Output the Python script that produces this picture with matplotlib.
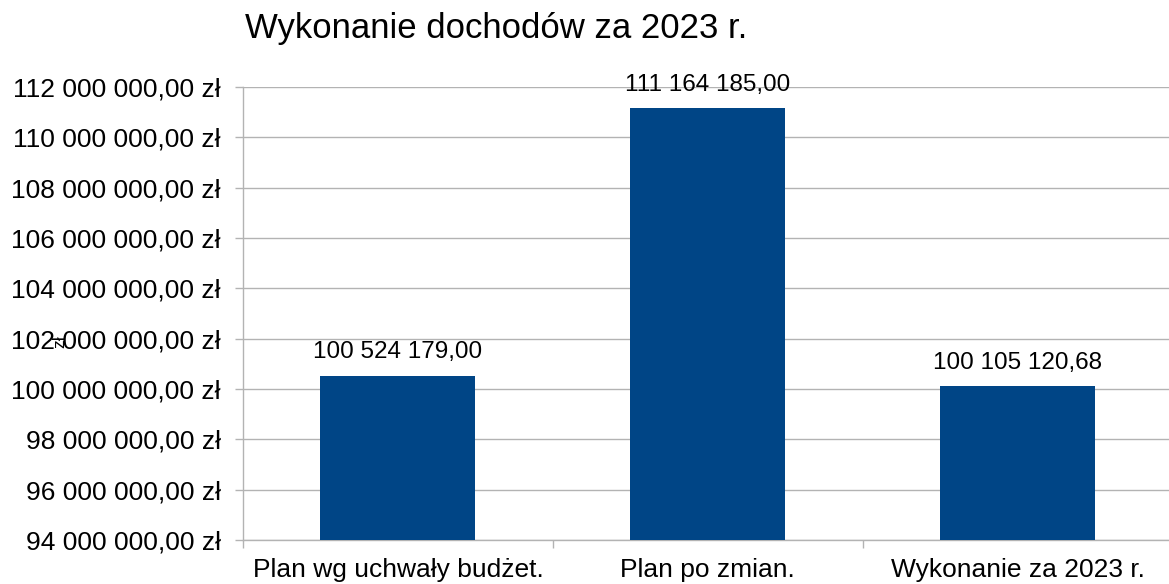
import matplotlib
matplotlib.use("Agg")
import matplotlib.pyplot as plt
from matplotlib.ticker import FuncFormatter, FixedLocator

plt.rcParams["font.family"] = ["Liberation Sans", "DejaVu Sans"]

categories = ["Plan wg uchwały budżet.", "Plan po zmian.", "Wykonanie za 2023 r."]
values = [100524179.00, 111164185.00, 100105120.68]
title = "Wykonanie dochodów za 2023 r."
y_ticks = list(range(94_000_000, 112_000_001, 2_000_000))

BAR = "#004586"
GRID = "#b3b3b3"


def pl_num(v):
    return f"{v:_.2f}".replace(".", ",").replace("_", " ")


fig = plt.figure(figsize=(11.69, 5.84), dpi=100)
ax = fig.add_axes([0.2079, 0.0753, 0.7950, 0.7757])

x = list(range(len(categories)))
ax.bar(x, values, width=0.5, color=BAR, zorder=3)
ax.set_xlim(-0.5, len(categories) - 0.5)
ax.set_ylim(y_ticks[0], y_ticks[-1])

for xi, v in zip(x, values):
    ax.annotate(pl_num(v), xy=(xi, v), xytext=(0, 9), textcoords="offset points",
                ha="center", va="bottom", fontsize=17.5, color="black")

ax.set_yticks(y_ticks)
ax.yaxis.set_major_formatter(FuncFormatter(lambda v, p: pl_num(v) + " zł"))
ax.grid(axis="y", color=GRID, lw=1, zorder=0)

# category labels centred, ticks on category boundaries
ax.set_xticks(x)
ax.set_xticklabels(categories, fontsize=19)
ax.tick_params(axis="x", which="major", length=0, pad=13)
ax.xaxis.set_minor_locator(FixedLocator([-0.5, 0.5, 1.5, 2.5]))
ax.tick_params(axis="x", which="minor", length=6, color=GRID, width=1)
ax.tick_params(axis="y", length=6, color=GRID, width=1, pad=10, labelsize=19)

for s in ["top", "right"]:
    ax.spines[s].set_visible(False)
for s in ["left", "bottom"]:
    ax.spines[s].set_color(GRID)
    ax.spines[s].set_linewidth(1)

fig.text(0.21, 0.952, title, fontsize=25, ha="left", va="center")
# stray rotated axis unit label, overlapping the tick labels as in the original
fig.text(0.051, 0.415, "zł", fontsize=12.5, rotation=90, ha="center", va="center")

fig.savefig("out.png", dpi=100)
